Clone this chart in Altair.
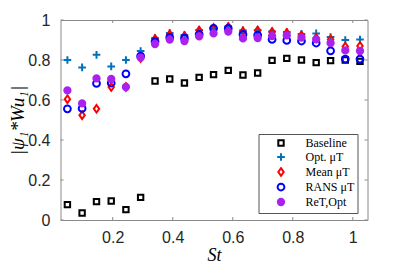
import altair as alt
import pandas as pd

st = [0.049, 0.098, 0.146, 0.195, 0.244, 0.293, 0.341, 0.390, 0.439, 0.488, 0.536,
      0.585, 0.634, 0.683, 0.731, 0.780, 0.829, 0.878, 0.926, 0.975, 1.024]
baseline = [0.077, 0.035, 0.092, 0.095, 0.052, 0.113, 0.695, 0.705, 0.685, 0.713, 0.727,
            0.748, 0.725, 0.735, 0.798, 0.808, 0.800, 0.787, 0.797, 0.800, 0.793]
opt_mu = [0.800, 0.763, 0.826, 0.768, 0.800, 0.845, 0.910, 0.935, 0.925, 0.950, 0.960,
          0.967, 0.948, 0.950, 0.943, 0.940, 0.930, 0.933, 0.915, 0.900, 0.902]
mean_mu = [0.604, 0.524, 0.556, 0.665, 0.665, 0.810, 0.905, 0.928, 0.920, 0.947, 0.960,
           0.965, 0.943, 0.947, 0.940, 0.935, 0.923, 0.910, 0.903, 0.867, 0.870]
rans_mu = [0.556, 0.558, 0.683, 0.685, 0.731, 0.820, 0.892, 0.913, 0.909, 0.928, 0.958,
           0.958, 0.928, 0.925, 0.903, 0.898, 0.895, 0.885, 0.846, 0.805, 0.805]
re_opt = [0.648, 0.583, 0.708, 0.705, 0.665, 0.812, 0.880, 0.902, 0.895, 0.918, 0.933,
          0.942, 0.908, 0.910, 0.920, 0.923, 0.912, 0.903, 0.885, 0.848, 0.845]

series_names = ["Baseline", "Opt. μT", "Mean μT", "RANS μT", "ReT,Opt"]
series_values = [baseline, opt_mu, mean_mu, rans_mu, re_opt]
x_ticks = [0.2, 0.4, 0.6, 0.8, 1.0]
y_ticks = [0.0, 0.2, 0.4, 0.6, 0.8, 1.0]

shapes = [
    "M-0.6,-0.6H0.6V0.6H-0.6Z",
    "M-0.85,0H0.85M0,-0.85V0.85",
    "M0,-0.85L0.6,0L0,0.85L-0.6,0Z",
    "M-0.75,0 A0.75 0.75 0 1 0 0.75 0 A0.75 0.75 0 1 0 -0.75 0 Z",
    "M-0.7,0 A0.7 0.7 0 1 0 0.7 0 A0.7 0.7 0 1 0 -0.7 0 Z",
]
strokes = ["#000000", "#0072BD", "#FF0000", "#0000FF", "#AA22EE"]
fills = ["transparent", "transparent", "transparent", "transparent", "#AA22EE"]

rows = []
for k, (name, vals) in enumerate(zip(series_names, series_values)):
    for s, v in zip(st, vals):
        rows.append({"St": s, "val": v, "series": name, "k": k})
df = pd.DataFrame(rows)

W, H = 307, 200
GRAY = "#8a8a8a"

xscale = alt.Scale(domain=[0.026, 1.049], nice=False, zero=False)
yscale = alt.Scale(domain=[0, 1], nice=False)
xaxis = alt.Axis(values=x_ticks, labelExpr="datum.value == 1 ? '1' : format(datum.value, '.1f')")
yaxis = alt.Axis(values=y_ticks, labelExpr="datum.value == 1 ? '1' : datum.value == 0 ? '0' : format(datum.value, '.1f')")


def xenc():
    return alt.X("St:Q", scale=xscale, axis=xaxis, title="St")


def yenc():
    return alt.Y("val:Q", scale=yscale, axis=yaxis, title="|ψ₁*Wu₁|")


legend = alt.Legend(title=None, orient="none", legendX=198, legendY=114,
                    labelExpr="datum.label + '\u00a0\u00a0\u00a0'")

points = alt.Chart(df).mark_point(size=81, strokeWidth=2, opacity=1, filled=False).encode(
    x=xenc(),
    y=yenc(),
    shape=alt.Shape("series:N", scale=alt.Scale(domain=series_names, range=shapes), legend=legend),
    stroke=alt.Stroke("series:N", scale=alt.Scale(domain=series_names, range=strokes), legend=legend),
    fill=alt.Fill("series:N", scale=alt.Scale(domain=series_names, range=fills), legend=legend),
    order=alt.Order("k:Q"),
)

xt = pd.DataFrame({"St": x_ticks})
yt = pd.DataFrame({"val": y_ticks})
bt = alt.Chart(xt).mark_rule(color=GRAY, strokeWidth=1).encode(x=xenc(), y=alt.value(H), y2=alt.value(H - 3))
tt = alt.Chart(xt).mark_rule(color=GRAY, strokeWidth=1).encode(x=xenc(), y=alt.value(0), y2=alt.value(3))
lt = alt.Chart(yt).mark_rule(color=GRAY, strokeWidth=1).encode(y=yenc(), x=alt.value(0), x2=alt.value(3))
rt = alt.Chart(yt).mark_rule(color=GRAY, strokeWidth=1).encode(y=yenc(), x=alt.value(W - 3), x2=alt.value(W))

chart = alt.layer(bt, tt, lt, rt, points).properties(
    width=W, height=H,
    autosize=alt.AutoSizeParams(type="none"),
    padding={"left": 52.5, "top": 12, "right": 31, "bottom": 43},
).configure_view(
    stroke=GRAY, strokeWidth=1
).configure_axis(
    grid=False, ticks=False, domain=False,
    labelFont="Liberation Sans", labelFontSize=16, labelColor="#262626",
    titleFont="Liberation Serif", titleFontSize=18, titleFontStyle="italic",
    titleFontWeight="normal", titleColor="#000000",
).configure_axisX(
    labelPadding=9, titlePadding=1,
).configure_axisY(
    labelPadding=10.5, titlePadding=0, titleFontSize=19,
).configure_legend(
    strokeColor="#555555", fillColor="white", padding=3,
    labelFont="Liberation Serif", labelFontSize=12, labelColor="#000000",
    symbolOffset=13.5, labelOffset=18.5, rowPadding=-1,
    symbolSize=81, symbolStrokeWidth=2,
)

chart.save("out.html", embed_options={"renderer": "svg", "actions": False})
